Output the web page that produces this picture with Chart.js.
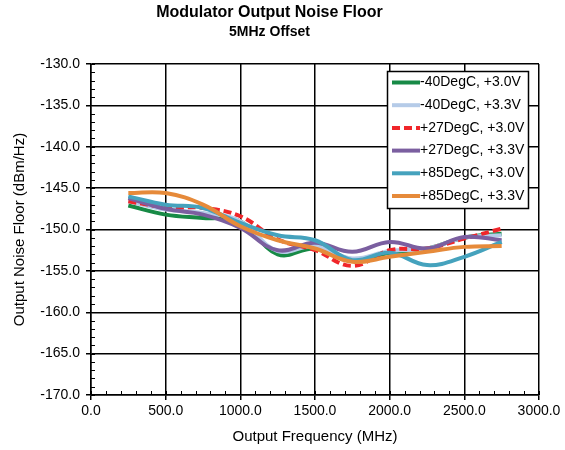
<!DOCTYPE html>
<html>
<head>
<meta charset="utf-8">
<script src="https://cdn.jsdelivr.net/npm/chart.js@4"></script>
<style>
  body { margin: 0; background: #fff; }
  #wrap { width: 565px; height: 450px; }
</style>
</head>
<body>
<div id="wrap"><canvas id="chart"></canvas></div>
<script>
const freqs = [250, 500, 750, 1000, 1250, 1500, 1750, 2000, 2250, 2500, 2750];

const seriesNames = ['-40DegC, +3.0V', '-40DegC, +3.3V', '+27DegC, +3.0V', '+27DegC, +3.3V', '+85DegC, +3.0V', '+85DegC, +3.3V'];

const m40_30 = [-147.1, -148.2, -148.6, -149.0, -153.0, -152.3, -153.7, -152.8, -152.3, -151.0, -150.5];
const m40_33 = [-146.6, -147.6, -148.0, -149.0, -152.6, -152.0, -153.5, -152.6, -152.3, -151.0, -150.7];
const p27_30 = [-146.6, -147.3, -147.4, -148.4, -151.2, -152.5, -154.4, -152.5, -152.3, -151.1, -149.9];
const p27_33 = [-146.2, -147.5, -148.2, -149.8, -152.5, -151.6, -152.7, -151.5, -152.3, -150.9, -151.3];
const p85_30 = [-146.0, -147.0, -147.4, -149.2, -150.7, -151.3, -153.7, -152.8, -154.3, -153.3, -151.5];
const p85_33 = [-145.6, -145.6, -147.0, -149.6, -151.3, -152.3, -153.9, -153.3, -152.7, -152.1, -152.0];

const colors = ['#178a46', '#b5cbe8', '#f0262a', '#7b5fa0', '#45a2bd', '#e68a3a'];
const allSeries = [m40_30, m40_33, p27_30, p27_33, p85_30, p85_33];

const datasets = allSeries.map((vals, i) => ({
  label: seriesNames[i],
  data: vals.map((v, j) => ({ x: freqs[j], y: v })),
  borderColor: colors[i],
  backgroundColor: colors[i],
  borderWidth: 4,
  borderDash: i === 2 ? [8, 4] : [],
  pointRadius: 0,
  tension: 0.4,
  fill: false,
  order: 5 - i
}));

// minor ticks + boxed legend inside the plot
const extras = {
  id: 'extras',
  afterDraw(chart) {
    const ctx = chart.ctx;
    const xs = chart.scales.x, ys = chart.scales.y;
    ctx.save();
    ctx.strokeStyle = '#000';
    ctx.lineWidth = 1;
    ctx.beginPath();
    for (let v = -170; v <= -130; v += 1) {
      const y = Math.round(ys.getPixelForValue(v)) + 0.5;
      ctx.moveTo(xs.left, y);
      ctx.lineTo(xs.left + 4, y);
    }
    for (let v = 0; v <= 3000; v += 100) {
      const x = Math.round(xs.getPixelForValue(v)) + 0.5;
      ctx.moveTo(x, ys.bottom);
      ctx.lineTo(x, ys.bottom - 4);
    }
    ctx.stroke();

    // legend
    const bx = 387.5, by = 71.5, bw = 141, bh = 137;
    ctx.fillStyle = '#fff';
    ctx.fillRect(bx, by, bw, bh);
    ctx.strokeStyle = '#000';
    ctx.lineWidth = 1.5;
    ctx.strokeRect(bx, by, bw, bh);
    ctx.font = '14px "Liberation Sans", Arial, sans-serif';
    ctx.textBaseline = 'middle';
    chart.data.datasets.forEach((ds, i) => {
      const y = 82.5 + i * 22.7;
      ctx.beginPath();
      ctx.strokeStyle = ds.borderColor;
      ctx.lineWidth = 4;
      ctx.setLineDash(ds.borderDash);
      ctx.moveTo(392, y);
      ctx.lineTo(420, y);
      ctx.stroke();
      ctx.setLineDash([]);
      ctx.fillStyle = '#000';
      ctx.fillText(ds.label, 420, y);
    });
    ctx.restore();
  }
};

new Chart(document.getElementById('chart'), {
  type: 'line',
  data: { datasets: datasets },
  options: {
    responsive: true,
    maintainAspectRatio: false,
    animation: false,
    layout: { padding: { left: 0, right: 26, top: 0, bottom: 0 } },
    plugins: {
      legend: { display: false },
      tooltip: { enabled: false },
      title: {
        display: true,
        text: 'Modulator Output Noise Floor',
        color: '#000',
        font: { family: '"Liberation Sans", Arial, sans-serif', size: 16, weight: 'bold', lineHeight: 1.2 },
        padding: { top: 3, bottom: 2 }
      },
      subtitle: {
        display: true,
        text: '5MHz Offset',
        color: '#000',
        font: { family: '"Liberation Sans", Arial, sans-serif', size: 14, weight: 'bold', lineHeight: 1.2 },
        padding: { top: 0, bottom: 23 }
      }
    },
    scales: {
      x: {
        type: 'linear',
        min: 0,
        max: 3000,
        afterFit(scale) { scale.height = 55; },
        ticks: {
          stepSize: 500,
          color: '#000',
          padding: 3,
          font: { family: '"Liberation Sans", Arial, sans-serif', size: 14 },
          callback: v => Number(v).toFixed(1)
        },
        grid: { color: '#000', lineWidth: 1.5, tickLength: 5 },
        border: { color: '#000', width: 1.5 },
        title: {
          display: true,
          text: 'Output Frequency (MHz)',
          color: '#000',
          font: { family: '"Liberation Sans", Arial, sans-serif', size: 15, lineHeight: 1.2 },
          padding: { top: 0, bottom: 4 }
        }
      },
      y: {
        min: -170,
        max: -130,
        afterFit(scale) { scale.width = 91; },
        ticks: {
          stepSize: 5,
          color: '#000',
          padding: 6,
          font: { family: '"Liberation Sans", Arial, sans-serif', size: 14 },
          callback: v => Number(v).toFixed(1)
        },
        grid: { color: '#000', lineWidth: 1.5, tickLength: 5 },
        border: { color: '#000', width: 1.5 },
        title: {
          display: true,
          text: 'Output Noise Floor (dBm/Hz)',
          color: '#000',
          font: { family: '"Liberation Sans", Arial, sans-serif', size: 15, lineHeight: 1.2 },
          padding: { top: 11, bottom: 0 }
        }
      }
    }
  },
  plugins: [extras]
});
</script>
</body>
</html>
